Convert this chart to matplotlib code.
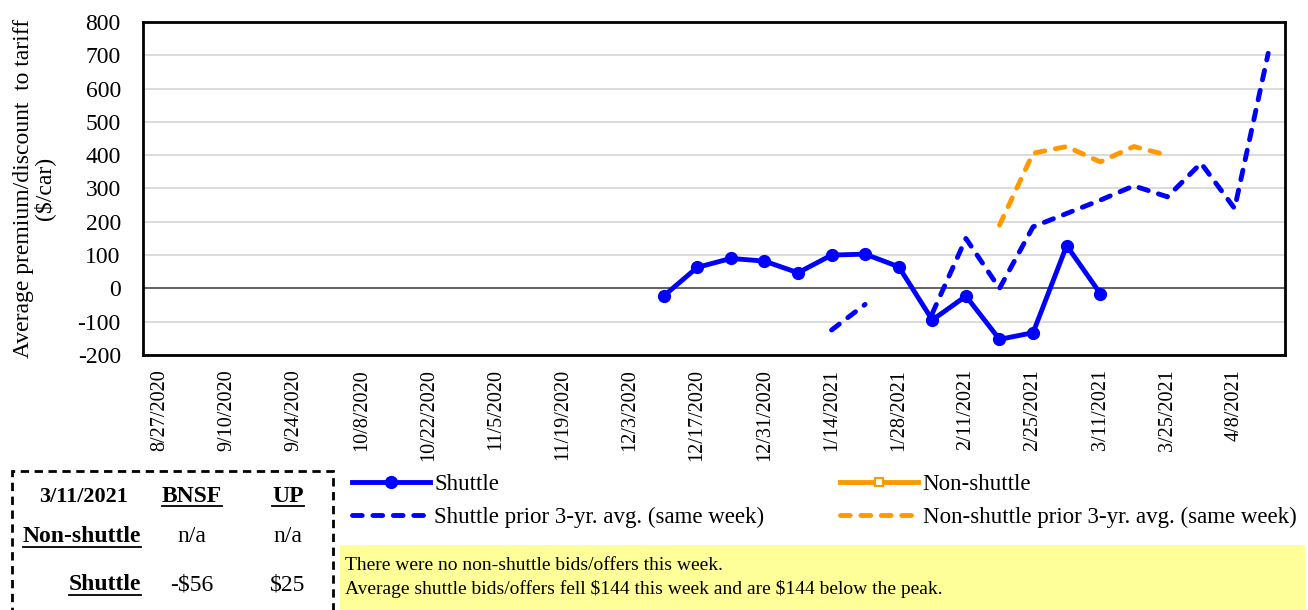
import numpy as np
import matplotlib
matplotlib.use("Agg")
import matplotlib.pyplot as plt
from matplotlib.lines import Line2D
from matplotlib.patches import Rectangle

plt.rcParams['font.family'] = ['Liberation Serif', 'DejaVu Serif']
plt.rcParams['axes.unicode_minus'] = False
plt.rcParams['text.parse_math'] = False

# weekly categories
weeks = ['8/27/2020', '9/3/2020', '9/10/2020', '9/17/2020', '9/24/2020', '10/1/2020',
         '10/8/2020', '10/15/2020', '10/22/2020', '10/29/2020', '11/5/2020', '11/12/2020',
         '11/19/2020', '11/26/2020', '12/3/2020', '12/10/2020', '12/17/2020', '12/24/2020',
         '12/31/2020', '1/7/2021', '1/14/2021', '1/21/2021', '1/28/2021', '2/4/2021',
         '2/11/2021', '2/18/2021', '2/25/2021', '3/4/2021', '3/11/2021', '3/18/2021',
         '3/25/2021', '4/1/2021', '4/8/2021', '4/15/2021']

nan = np.nan
shuttle = [nan] * 15 + [-23, 63, 90, 82, 47, 100, 103, 65, -95, -23, -153, -133, 128.5, -15.5] + [nan] * 5
non_shuttle = [nan] * 34
shuttle_3yr = [nan] * 20 + [-125, -48, nan, -75, 150, 0, 185, 225, 265, 308, 275, 376, 240, 706]
non_shuttle_3yr = [nan] * 25 + [190, 406, 426, 380, 426, 400] + [nan] * 3

# weekly bid table
table_date = '3/11/2021'
table_cols = ['BNSF', 'UP']
table_rows = ['Non-shuttle', 'Shuttle']
table_vals = [['n/a', 'n/a'], ['-$56', '$25']]

note_lines = ['There were no non-shuttle bids/offers this week.',
              'Average shuttle bids/offers fell $144 this week and are $144 below the peak.']

BLUE = '#0000FF'
ORANGE = '#FF9900'

W, H = 1308, 610
fig = plt.figure(figsize=(W / 100, H / 100), dpi=100)
ax = fig.add_axes([143 / W, 1 - 355 / H, (1285 - 143) / W, (355 - 22) / H])

x = np.arange(len(weeks))
dash = (0, (2.0, 2.2))
l1, = ax.plot(x, shuttle, color=BLUE, lw=3.5, marker='o', ms=8.5, label='Shuttle', zorder=5)
l2, = ax.plot(x, non_shuttle, color=ORANGE, lw=3.5, marker='s', ms=6, mfc='white',
              mew=1.5, label='Non-shuttle', zorder=5)
l3, = ax.plot(x, shuttle_3yr, color=BLUE, lw=3.5, ls=dash, dash_capstyle='round',
              label='Shuttle prior 3-yr. avg. (same week)', zorder=4)
l4, = ax.plot(x, non_shuttle_3yr, color=ORANGE, lw=3.5, ls=dash, dash_capstyle='round',
              label='Non-shuttle prior 3-yr. avg. (same week)', zorder=4)

ax.set_xlim(-0.5, len(weeks) - 0.5)
ax.set_ylim(-200, 800)
ax.set_yticks(np.arange(-200, 801, 100))
ax.set_xticks(x[::2])
ax.set_xticklabels(weeks[::2], rotation=90, fontsize=14.5)
ax.tick_params(axis='y', length=0, pad=16, labelsize=17)
ax.tick_params(axis='x', length=0, pad=10)
ax.grid(axis='y', color='#d9d9d9', lw=1.3)
ax.axhline(0, color='#595959', lw=1.3, zorder=2)
ax.set_axisbelow(True)
for s in ax.spines.values():
    s.set_linewidth(2)
    s.set_color('black')

ax.set_ylabel('Average premium/discount  to tariff\n($/car)', fontsize=17, linespacing=0.95)
ax.yaxis.set_label_coords(-0.077, 0.5)

fig.legend(handles=[l1, l3, l2, l4], loc='upper left', ncol=2,
           bbox_to_anchor=(352 / W, 1 - 474 / H), frameon=False, fontsize=16.5,
           handlelength=3.4, handletextpad=0.2, columnspacing=3.3,
           labelspacing=0.5, borderpad=0, borderaxespad=0)

# table of this week's bids
fig.patches.append(Rectangle((12 / W, -0.02), (333 - 12) / W, (1 - 471 / H) + 0.02,
                             transform=fig.transFigure, fill=False, ec='black',
                             lw=2, ls=(0, (3, 2))))


def fx(px):
    return px / W


def fy(py):
    return 1 - py / H


underlined = []
fig.text(fx(84), fy(497), table_date, ha='center', va='center', fontsize=16, weight='bold')
col_x = [192, 288]
for cx, name in zip(col_x, table_cols):
    underlined.append(fig.text(fx(cx), fy(496), name, ha='center', va='center',
                               fontsize=17, weight='bold'))
row_y = [537, 585]
for ry, name, vals in zip(row_y, table_rows, table_vals):
    underlined.append(fig.text(fx(141), fy(ry), name, ha='right', va='center',
                               fontsize=17, weight='bold'))
    for cx, v in zip(col_x, vals):
        fig.text(fx(cx), fy(ry), v, ha='center', va='center', fontsize=17)

fig.canvas.draw()
r = fig.canvas.get_renderer()
for t in underlined:
    bb = t.get_window_extent(r)
    fig.add_artist(Line2D([bb.x0 / W, bb.x1 / W], [(bb.y0 + 1) / H] * 2,
                          transform=fig.transFigure, color='black', lw=1.3))

# yellow note box
fig.patches.append(Rectangle((340 / W, -0.02), (1305 - 340) / W, (1 - 545 / H) + 0.02,
                             transform=fig.transFigure, color='#FFFF99', lw=0))
fig.text(fx(345), fy(566), note_lines[0], ha='left', va='center', fontsize=14)
fig.text(fx(345), fy(589), note_lines[1], ha='left', va='center', fontsize=14)

fig.savefig('out.png', dpi=100)
